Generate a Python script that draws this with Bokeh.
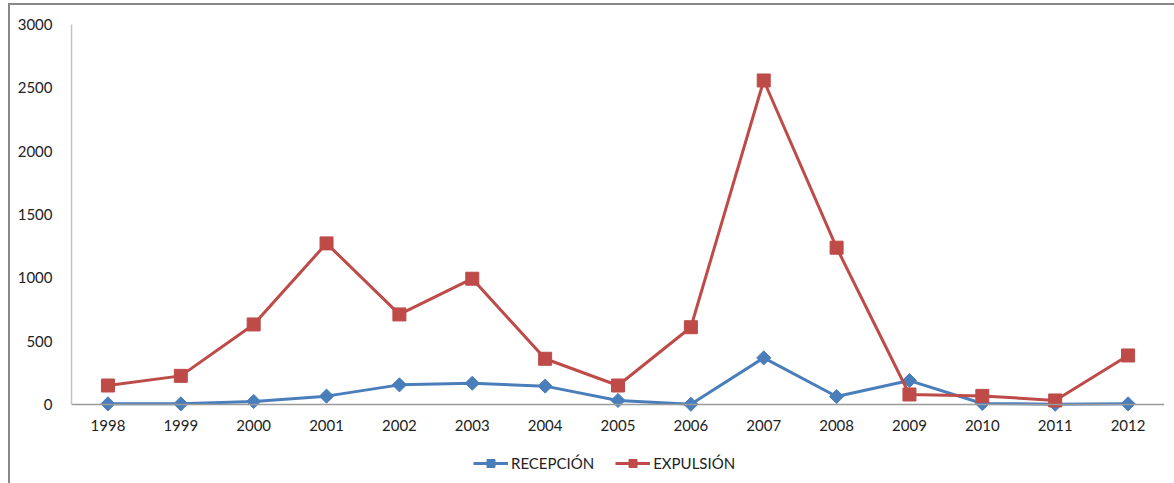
import math
from bokeh.plotting import figure
from bokeh.models import FactorRange, Range1d, FixedTicker, Legend, LegendItem
from bokeh.embed import file_html
from bokeh.resources import INLINE

years = ["1998", "1999", "2000", "2001", "2002", "2003", "2004", "2005",
         "2006", "2007", "2008", "2009", "2010", "2011", "2012"]
recepcion = [5, 5, 24, 66, 155, 168, 145, 32, 2, 368, 63, 189, 8, 2, 5]
expulsion = [150, 226, 632, 1272, 711, 993, 361, 150, 610, 2558, 1238, 79, 68, 32, 387]
y_ticks = [0, 500, 1000, 1500, 2000, 2500, 3000]

BLUE = "#4A7EBB"
RED = "#BE4B48"
FONT = "Lato"

# frame: 3000 at 19px from top, 0 at 399px, frame continues to 478px (room for legend)
Y_MAX = 3000
Y_MIN = -Y_MAX * 79 / 380

p = figure(x_range=FactorRange(*years), y_range=Range1d(Y_MIN, Y_MAX),
           frame_width=1093, frame_height=459, output_backend="svg", toolbar_location=None,
           min_border_left=61, min_border_right=10, min_border_top=19, min_border_bottom=0)
p.styles = {"margin-top": "3px", "margin-left": "8px",
            "border-top": "2px solid #888888", "border-left": "2px solid #888888"}
p.outline_line_color = None
p.xgrid.grid_line_color = None
p.ygrid.grid_line_color = None

r1 = p.line(years, recepcion, line_color=BLUE, line_width=3)
m1 = p.scatter(years, recepcion, marker="square", angle=math.pi / 4, size=10,
               fill_color=BLUE, line_color=BLUE)
r2 = p.line(years, expulsion, line_color=RED, line_width=3)
m2 = p.scatter(years, expulsion, marker="square", size=13, fill_color=RED, line_color=RED)

p.yaxis.ticker = FixedTicker(ticks=y_ticks)
p.yaxis.bounds = (0, Y_MAX)
p.yaxis.axis_line_color = "#c4c4c4"
p.yaxis.axis_line_width = 1.5
p.yaxis.major_tick_line_color = None
p.yaxis.minor_tick_line_color = None
p.yaxis.major_label_standoff = 13
p.xaxis.fixed_location = 0
p.xaxis.axis_line_color = "#9a9a9a"
p.xaxis.axis_line_width = 1.5
p.xaxis.major_tick_line_color = None
p.xaxis.minor_tick_line_color = None
p.xaxis.major_label_standoff = 9
for ax in (p.xaxis, p.yaxis):
    ax.major_label_text_font = FONT
    ax.major_label_text_font_size = "15px"
    ax.major_label_text_color = "#222222"

legend = Legend(items=[LegendItem(label="RECEPCIÓN", renderers=[r1, m1]),
                       LegendItem(label="EXPULSIÓN", renderers=[r2, m2])],
                orientation="horizontal", location=(402, 10),
                glyph_width=35, glyph_height=20, label_standoff=3, spacing=21,
                padding=0, margin=0, border_line_color=None, background_fill_alpha=0,
                label_text_font=FONT, label_text_font_size="15px", label_text_color="#222222")
p.add_layout(legend, "center")

open("out.html", "w").write(file_html(p, INLINE))
